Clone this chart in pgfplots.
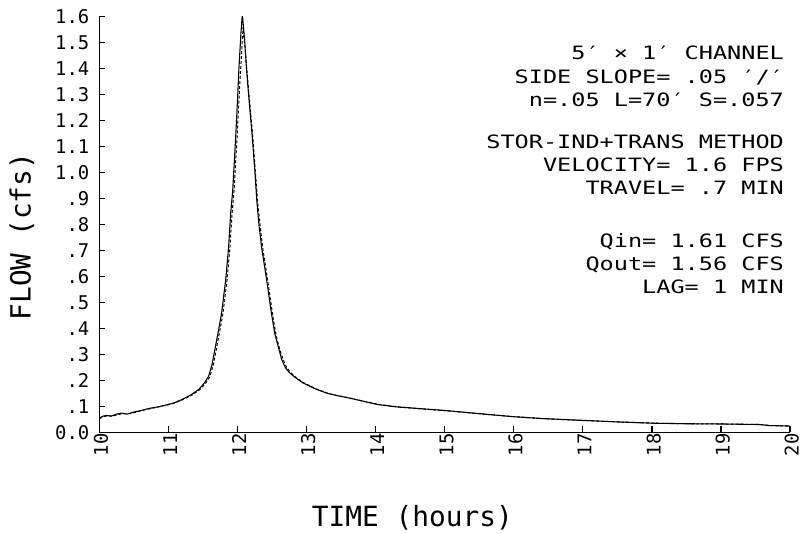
\documentclass[border=0pt]{standalone}
\usepackage{fontspec}
\usepackage{pgfplots}
\pgfplotsset{compat=1.18}
\newfontfamily\plotfont[FakeStretch=1.28]{DejaVu Sans Mono}
\newfontfamily\labelfont{DejaVu Sans Mono}

% inflow (solid) and routed outflow (dashed), cfs vs hours
\pgfplotstableread{
t q
10.00 0.055
10.05 0.062
10.10 0.065
10.17 0.062
10.25 0.070
10.32 0.074
10.40 0.070
10.50 0.078
10.62 0.085
10.72 0.092
10.85 0.098
10.96 0.105
11.08 0.113
11.20 0.127
11.33 0.145
11.44 0.165
11.52 0.190
11.58 0.215
11.63 0.26
11.68 0.33
11.73 0.40
11.77 0.46
11.83 0.59
11.87 0.71
11.90 0.84
11.93 0.93
11.97 1.12
12.00 1.28
12.02 1.40
12.05 1.54
12.07 1.61
12.10 1.52
12.13 1.40
12.17 1.27
12.21 1.15
12.25 1.01
12.28 0.89
12.31 0.80
12.35 0.71
12.42 0.59
12.49 0.46
12.54 0.38
12.59 0.33
12.64 0.28
12.69 0.25
12.75 0.23
12.83 0.212
12.95 0.190
13.12 0.168
13.30 0.150
13.45 0.141
13.60 0.133
13.80 0.121
14.03 0.107
14.30 0.098
14.60 0.092
15.00 0.084
15.50 0.072
15.95 0.061
16.40 0.053
16.92 0.047
17.50 0.040
18.03 0.035
18.50 0.033
19.03 0.032
19.55 0.030
19.70 0.026
20.00 0.024
}\qin

\pgfplotstableread{
t q
10.00 0.052
10.06 0.060
10.12 0.064
10.20 0.063
10.28 0.069
10.36 0.072
10.45 0.072
10.55 0.079
10.65 0.086
10.75 0.092
10.88 0.099
11.00 0.106
11.10 0.114
11.22 0.127
11.35 0.145
11.46 0.166
11.54 0.190
11.60 0.214
11.65 0.26
11.70 0.33
11.75 0.40
11.79 0.46
11.85 0.59
11.89 0.71
11.92 0.84
11.95 0.93
11.99 1.12
12.02 1.28
12.05 1.42
12.08 1.56
12.11 1.48
12.14 1.38
12.18 1.26
12.22 1.14
12.26 1.00
12.29 0.89
12.33 0.79
12.37 0.70
12.44 0.58
12.51 0.45
12.56 0.37
12.61 0.32
12.66 0.28
12.71 0.25
12.77 0.23
12.85 0.210
12.97 0.189
13.14 0.167
13.32 0.149
13.47 0.140
13.62 0.132
13.82 0.120
14.05 0.107
14.32 0.098
14.62 0.091
15.02 0.083
15.52 0.071
15.97 0.061
16.42 0.053
16.94 0.046
17.52 0.040
18.05 0.035
18.52 0.033
19.05 0.032
19.57 0.030
19.72 0.026
20.00 0.024
}\qout

\begin{document}
\begin{tikzpicture}[x=1bp,y=1bp]
\begin{axis}[
    at={(0,0)}, anchor=south west,
    width=695bp, height=418bp, scale only axis,
    xmin=10, xmax=20, ymin=0, ymax=1.6,
    axis lines*=left,
    axis line style={line width=1.4bp},
    tick align=inside, major tick length=6bp,
    tick style={line width=1.2bp, black},
    xtick={10,11,12,13,14,15,16,17,18,19,20},
    xticklabels={10,11,12,13,14,15,16,17,18,19,20},
    ytick={0,0.1,0.2,0.3,0.4,0.5,0.6,0.7,0.8,0.9,1.0,1.1,1.2,1.3,1.4,1.5,1.6},
    yticklabels={0.0,.1,.2,.3,.4,.5,.6,.7,.8,.9,1.0,1.1,1.2,1.3,1.4,1.5,1.6},
    tick label style={font=\labelfont\fontsize{19bp}{19bp}\selectfont},
    xticklabel style={rotate=90, anchor=east, inner sep=0pt, yshift=-5bp,
      text height=0.73em, text depth=0pt, xshift=-1bp},
    yticklabel style={anchor=east, inner sep=0pt, xshift=-10bp},
    xlabel={TIME (hours)},
    ylabel={FLOW (cfs)},
    label style={font=\labelfont\fontsize{28bp}{28bp}\selectfont},
    xlabel style={at={(axis description cs:0.453,-0.2057)}, anchor=center},
    ylabel style={at={(axis description cs:-0.1122,0.471)}, anchor=center},
  ]
  \addplot[black, line width=1.1bp] table[x=t, y=q] {\qin};
  \addplot[black, line width=1bp, dash pattern=on 3bp off 2bp] table[x=t, y=q] {\qout};
\end{axis}
\begin{scope}[every node/.style={anchor=base east, inner sep=0pt,
    font=\plotfont\fontsize{18.5bp}{18.5bp}\selectfont}]
  \node at (689,375) {5′ × 1′ CHANNEL};
  \node at (689,351) {SIDE SLOPE= .05 ′/′};
  \node at (689,328) {n=.05 L=70′ S=.057};
  \node at (689,286) {STOR-IND+TRANS METHOD};
  \node at (689,262) {VELOCITY= 1.6 FPS};
  \node at (689,239) {TRAVEL= .7 MIN};
  \node at (689,186) {Qin= 1.61 CFS};
  \node at (689,163) {Qout= 1.56 CFS};
  \node at (689,140) {LAG= 1 MIN};
\end{scope}
\pgfresetboundingbox
\useasboundingbox (-100,-102) rectangle (708,435);
\end{tikzpicture}
\end{document}
